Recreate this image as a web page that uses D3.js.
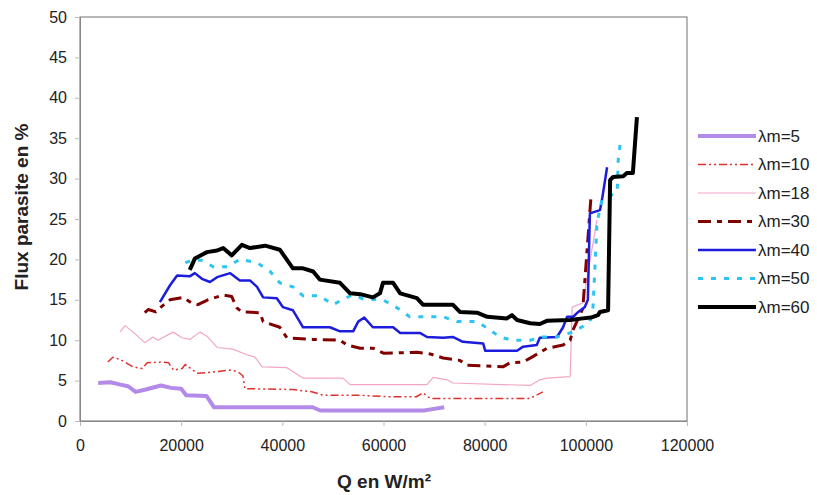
<!DOCTYPE html>
<html>
<head>
<meta charset="utf-8">
<script src="https://cdn.jsdelivr.net/npm/d3@7"></script>
<style>
  body { margin: 0; background: #fff; }
  text { font-family: "Liberation Sans", Arial, sans-serif; fill: #222; }
</style>
</head>
<body>
<svg width="817" height="495"></svg>
<script>
const margin = { left: 80, right: 130, top: 17, bottom: 74 };
const width = 817, height = 495;

// data: [Q en W/m², flux parasite %]
const lm5 = [[3600,4.7],[6000,4.8],[8000,4.5],[9500,4.3],[11000,3.6],[13000,3.9],[16000,4.4],[18000,4.1],[20000,4.0],[21000,3.2],[25000,3.1],[26500,1.7],[46000,1.7],[47500,1.3],[68000,1.3],[70000,1.5],[72000,1.7]];
const lm10 = [[5500,7.3],[6500,7.9],[8000,7.6],[10500,6.7],[12300,6.5],[13300,7.2],[16000,7.3],[17500,7.2],[18500,6.3],[20200,6.5],[20800,7.0],[22300,6.3],[23300,5.9],[27000,6.1],[29700,6.3],[31200,6.1],[32200,5.6],[32600,4.0],[42000,3.9],[46000,3.6],[48000,3.2],[55000,3.2],[61000,3.0],[66500,3.0],[67800,3.5],[69200,2.8],[89000,2.8],[91500,3.6]];
const lm18 = [[7900,11.0],[8900,11.8],[10500,11.0],[12800,9.7],[14400,10.4],[15400,10.0],[18400,11.0],[20200,10.3],[21700,10.1],[23700,11.0],[25100,10.5],[27100,9.1],[30200,8.9],[33000,8.2],[34600,7.9],[36000,6.7],[40900,6.6],[44100,5.3],[52000,5.3],[53400,4.5],[68600,4.5],[69800,5.4],[72600,5.1],[73700,4.7],[89000,4.4],[90900,5.1],[92300,5.3],[96900,5.5],[97300,14.1],[99400,14.6],[102200,24.9]];
const lm30 = [[12800,13.4],[13500,13.8],[15000,13.5],[16000,14.1],[17800,15.0],[20400,15.3],[22100,14.6],[23300,14.4],[25300,15.0],[28300,15.6],[30000,15.4],[31000,14.0],[32000,13.5],[35600,13.4],[36200,12.3],[39500,11.6],[40900,10.3],[46000,10.1],[51400,10.0],[52800,9.4],[55400,9.0],[58000,9.0],[60000,8.4],[66600,8.5],[69200,8.3],[71800,7.8],[75100,7.5],[76500,6.9],[83600,6.7],[85000,7.2],[87600,7.3],[89600,8.0],[92300,9.0],[95500,9.4],[96900,10.0],[97500,11.3],[99400,13.9],[101000,27.6]];
const lm40 = [[15800,14.7],[17800,16.8],[19200,18.0],[21700,17.9],[22700,18.3],[24100,17.6],[25700,17.2],[27100,17.8],[29700,18.3],[31600,17.4],[33600,17.4],[35000,16.6],[36200,15.3],[38900,15.2],[40100,14.1],[42100,13.7],[44100,11.6],[49400,11.6],[51400,11.1],[54000,11.1],[55000,12.3],[56200,12.8],[57900,11.6],[61900,11.6],[63300,10.9],[67200,10.9],[68600,10.4],[71800,10.3],[73700,10.4],[75700,9.8],[79700,9.6],[80100,8.7],[86400,8.7],[87600,9.2],[90300,9.4],[90900,10.3],[94300,10.4],[95500,11.6],[96300,12.9],[97500,12.9],[98500,13.5],[99800,14.1],[100400,15.0],[100800,25.7],[102800,26.1],[103200,27.4],[104200,31.4]];
const lm50 = [[20800,19.6],[22300,19.9],[24000,19.9],[26300,19.1],[29100,19.1],[31600,20.0],[35000,19.6],[37600,18.5],[39500,17.1],[42100,16.6],[44100,15.5],[47400,15.5],[50000,14.4],[52800,15.3],[54000,15.6],[56000,15.1],[59900,15.0],[62700,14.0],[65200,12.9],[71800,12.9],[74500,12.3],[78500,12.3],[80500,11.5],[83000,10.4],[85400,10.0],[89000,10.0],[91500,10.4],[94300,10.4],[96900,10.9],[99400,11.7],[100800,12.3],[101400,14.0],[101800,19.0],[102200,24.5],[103200,27.4],[106200,28.3],[106400,32.3],[106800,34.4]];
const lm60 = [[21700,18.7],[22700,20.1],[25100,20.9],[27100,21.1],[28300,21.4],[30000,20.5],[32000,21.8],[33600,21.4],[36600,21.7],[39500,21.2],[42100,18.9],[44100,18.9],[46100,18.5],[47400,17.5],[51400,17.1],[53400,15.8],[55400,15.7],[57900,15.3],[59300,15.8],[59900,17.1],[61900,17.1],[63300,15.8],[66600,15.2],[67800,14.4],[73700,14.4],[75100,13.5],[78500,13.4],[80500,12.9],[84400,12.7],[85400,13.1],[86400,12.5],[89000,12.1],[90900,12.0],[92300,12.4],[96900,12.5],[99400,12.7],[101000,12.8],[102400,13.1],[102800,13.5],[104400,13.7],[104800,29.8],[105400,30.2],[107400,30.3],[108100,30.7],[109300,30.7],[110100,37.6]];

const series_names = ["λm=5", "λm=10", "λm=18", "λm=30", "λm=40", "λm=50", "λm=60"];
const series_data = [lm5, lm10, lm18, lm30, lm40, lm50, lm60];
const x_ticks = [0, 20000, 40000, 60000, 80000, 100000, 120000];
const y_ticks = [0, 5, 10, 15, 20, 25, 30, 35, 40, 45, 50];

const styles = [
  { color: "#b48ae8", width: 4, dash: null },
  { color: "#e0302c", width: 1.5, dash: "8,3,2,3,2,3" },
  { color: "#f2a6c6", width: 1.2, dash: null },
  { color: "#800000", width: 3, dash: "13,6,5,6" },
  { color: "#1c1cdc", width: 2.5, dash: null },
  { color: "#2cc4f0", width: 3, dash: "5,8" },
  { color: "#000000", width: 4, dash: null }
];

const svg = d3.select("svg");

const x_scale = d3.scaleLinear().domain([0, 120000]).range([margin.left, width - margin.right]);
const y_scale = d3.scaleLinear().domain([0, 50]).range([height - margin.bottom, margin.top]);

// plot frame
svg.append("rect")
  .attr("x", margin.left)
  .attr("y", margin.top)
  .attr("width", width - margin.right - margin.left)
  .attr("height", height - margin.bottom - margin.top)
  .attr("fill", "none")
  .attr("stroke", "#888")
  .attr("stroke-width", 1.2);

// axes
const x_axis = d3.axisBottom(x_scale).tickValues(x_ticks).tickSize(5).tickPadding(14).tickFormat(d3.format("d"));
const y_axis = d3.axisLeft(y_scale).tickValues(y_ticks).tickSize(5).tickPadding(8);

const gx = svg.append("g")
  .attr("transform", `translate(0,${height - margin.bottom})`)
  .call(x_axis);
const gy = svg.append("g")
  .attr("transform", `translate(${margin.left},0)`)
  .call(y_axis);

[gx, gy].forEach(g => {
  g.select(".domain").attr("stroke", "#888");
  g.selectAll(".tick line").attr("stroke", "#bbb");
  g.selectAll("text").style("font-size", "16px").attr("fill", "#222")
    .style("font-family", "'Liberation Sans', Arial, sans-serif");
});

// lines
const line_generator = d3.line()
  .x(d => x_scale(d[0]))
  .y(d => y_scale(d[1]));

series_data.forEach((d, i) => {
  svg.append("path")
    .attr("fill", "none")
    .attr("stroke", styles[i].color)
    .attr("stroke-width", styles[i].width)
    .attr("stroke-dasharray", styles[i].dash)
    .attr("stroke-linejoin", "round")
    .attr("d", line_generator(d));
});

// legend
const legend = svg.append("g");
series_names.forEach((name, i) => {
  const y = 136 + i * 28.5;
  legend.append("line")
    .attr("x1", 698).attr("x2", 756)
    .attr("y1", y).attr("y2", y)
    .attr("stroke", styles[i].color)
    .attr("stroke-width", styles[i].width)
    .attr("stroke-dasharray", styles[i].dash);
  legend.append("text")
    .attr("x", 758)
    .attr("y", y)
    .attr("dy", "0.35em")
    .style("font-size", "17px")
    .text(name);
});

// axis titles
svg.append("text")
  .attr("x", 384)
  .attr("y", 488)
  .attr("text-anchor", "middle")
  .style("font-size", "19px")
  .style("font-weight", "bold")
  .text("Q en W/m²");

svg.append("text")
  .attr("text-anchor", "middle")
  .attr("transform", "translate(28,207) rotate(-90)")
  .style("font-size", "19px")
  .style("font-weight", "bold")
  .text("Flux parasite en %");
</script>
</body>
</html>
